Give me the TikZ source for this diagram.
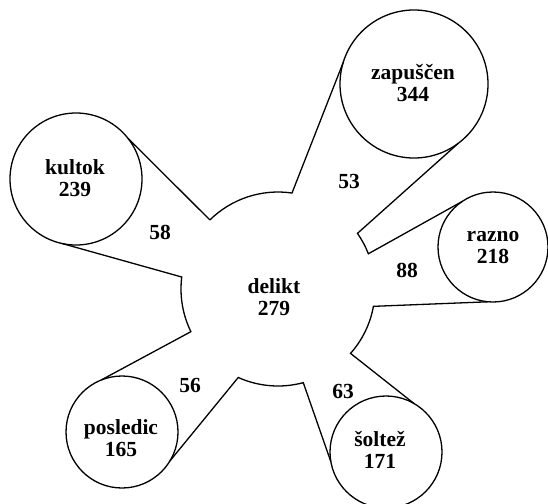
\documentclass[tikz,border=0pt]{standalone}
\usepackage{fontspec}
\setmainfont{Liberation Serif}
\usetikzlibrary{calc}
\begin{document}
\begin{tikzpicture}[x=1pt,y=-1pt,
  line width=1.3pt,
  bubble/.style={circle,draw,inner sep=0pt,outer sep=0pt,minimum size=#1},
  txt/.style={font=\fontsize{21.5}{22}\selectfont\bfseries,align=center,inner sep=0pt},
  lbl/.style={font=\fontsize{21.5}{22}\selectfont\bfseries,inner sep=0pt}]
\useasboundingbox (0,0) rectangle (548,503);
\fill[white] (0,0) rectangle (548,503);
\clip (0,0) rectangle (548,503);

\coordinate (c0) at (278,289);
\node[bubble=132pt] (kultok) at (76,179) {};
\node[bubble=148pt] (zap) at (414,84) {};
\node[bubble=110pt] (razno) at (493,247) {};
\node[bubble=112pt] (soltez) at (386,452) {};
\node[bubble=112pt] (posledic) at (122,432) {};

\coordinate (v1) at ($(c0)+(225.4:97)$);
\coordinate (v3) at ($(c0)+(325:97)$);
\coordinate (v5) at ($(c0)+(10.3:97)$);
\coordinate (v7) at ($(c0)+(74.9:97)$);
\coordinate (v9) at ($(c0)+(153.9:97)$);

\draw[line join=miter]
  (v1) arc[start angle=225.4,end angle=278.3,radius=97] -- (zap.163)
  (zap.307) -- (v3) arc[start angle=325,end angle=338.7,radius=97] -- (razno.124)
  (razno.265) -- (v5) arc[start angle=10.3,end angle=41.6,radius=97] -- (soltez.60)
  (soltez.190) -- (v7) arc[start angle=74.9,end angle=114.2,radius=97] -- (posledic.329)
  (posledic.112) -- (v9) arc[start angle=153.9,end angle=187.1,radius=97] -- (kultok.258)
  (kultok.38) -- (v1);

\node[txt] (tdelikt) at (274,297.5) {delikt\\279};
\node[txt] (tkultok) at (75,178) {kultok\\239};
\node[txt] (tzap) at (413,83) {zapuščen\\344};
\node[txt] (trazno) at (493,247.5) {razno\\218};
\node[txt] (tsoltez) at (380,450) {šoltež\\171};
\node[txt] (tposledic) at (121,438) {posledic\\165};

\node[lbl] (l58) at (160,232) {58};
\node[lbl] (l53) at (349,181) {53};
\node[lbl] (l88) at (407,270) {88};
\node[lbl] (l56) at (190,385) {56};
\node[lbl] (l63) at (343,391) {63};
\end{tikzpicture}
\end{document}
